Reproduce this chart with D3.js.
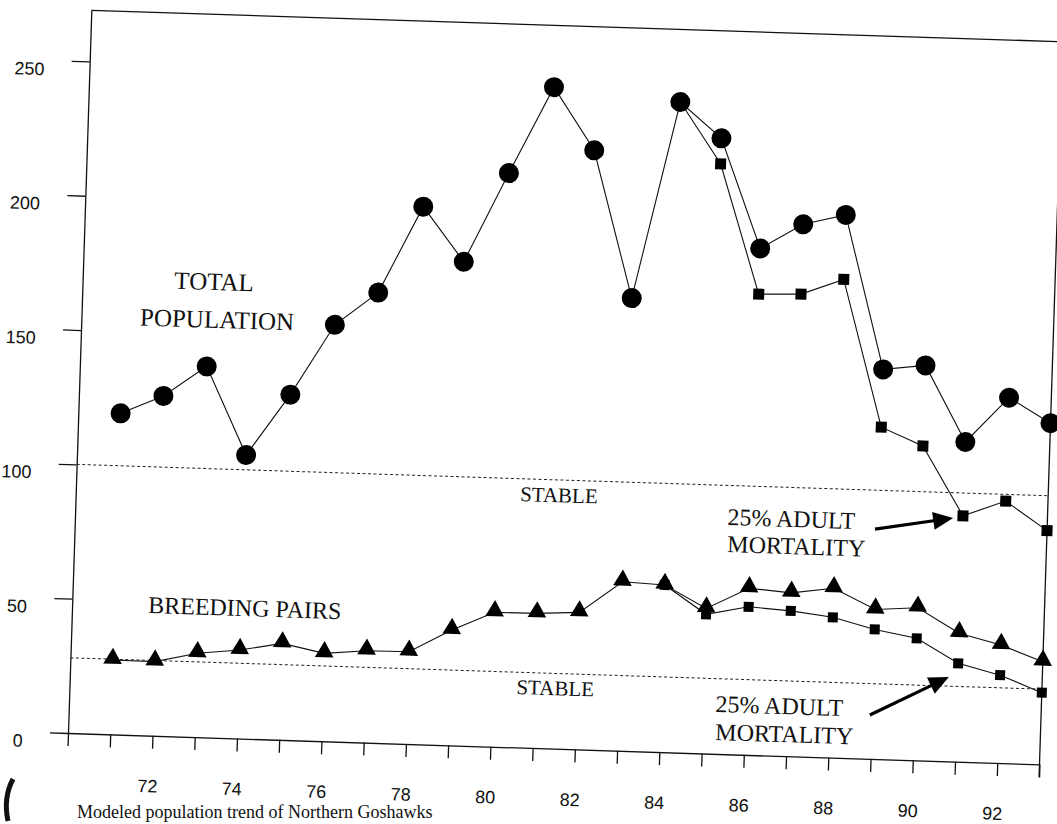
<!DOCTYPE html>
<html><head><meta charset="utf-8">
<script src="https://cdn.jsdelivr.net/npm/d3@7"></script>
<style>body{margin:0;background:#fff;overflow:hidden}</style>
</head><body>
<svg id="chart" width="1057" height="824"></svg>
<script>
// ---- data ----
const years = [71,72,73,74,75,76,77,78,79,80,81,82,83,84,85,86,87,88,89,90,91,92,93];
const totalPopulation = [119.5,126.5,138,105.5,128.5,155,167.5,200,180,213.5,246,223,168.5,242,229,188.5,198,202,145,147,119,136,127];
const mortalityYears = [84,85,86,87,88,89,90,91,92,93];
const totalMortality = [242,219.5,171.5,172,178,123.5,117,91.5,97.5,87];
const breedingPairs = [27.7,27.6,31.2,32.9,35.9,32.7,34.2,34.3,42.9,50,50.1,51,62.9,62.2,54,62,60.8,63,55.6,56.8,47.8,43.9,38.2];
const breedingMortality = [62.2,51.8,55.1,54.1,52.2,48.2,45.4,36.6,32.7,26.7];
const stableTotal = 100;
const stableBreeding = 28;
const yTicks = [0,50,100,150,200,250];
const xTickYears = [70,71,72,73,74,75,76,77,78,79,80,81,82,83,84,85,86,87,88,89,90,91,92,93];
const xLabelYears = [72,74,76,78,80,82,84,86,88,90,92];

// ---- layout ----
const W = 972, H = 723, ANGLE = 1.85;
const svg = d3.select('#chart');
const g = svg.append('g')
  .attr('transform', `translate(68,733) rotate(${ANGLE}) translate(0,${-H})`);

const x = d3.scaleLinear().domain([70,93]).range([0,W]);
const y = d3.scaleLinear().domain([0,269]).range([H,0]);

// axes
const yAxis = g.append('g').call(
  d3.axisLeft(y).tickValues(yTicks).tickSize(18).tickSizeOuter(0).tickPadding(27)
);
yAxis.selectAll('text').attr('y', 9)
  .style('font-family','"Liberation Sans", Arial, sans-serif').style('font-size','18px').attr('fill','#111');

const xAxis = g.append('g').attr('transform', `translate(0,${H})`).call(
  d3.axisBottom(x).tickValues(xTickYears).tickSize(13).tickSizeOuter(0).tickPadding(31)
    .tickFormat(d => xLabelYears.includes(d) ? String(d) : '')
);
xAxis.selectAll('text').attr('dx', -4)
  .style('font-family','"Liberation Sans", Arial, sans-serif').style('font-size','18px').attr('fill','#111');

g.selectAll('.domain, .tick line').attr('stroke','#111').attr('stroke-width',1.3);

// frame top and right
g.append('line').attr('x1',x(70)).attr('x2',x(93)).attr('y1',y(269)).attr('y2',y(269))
  .attr('stroke','#111').attr('stroke-width',1.3);
g.append('line').attr('x1',x(93)).attr('x2',x(93)).attr('y1',y(269)).attr('y2',H+13)
  .attr('stroke','#111').attr('stroke-width',1.3);

// stable lines
[stableTotal, stableBreeding].forEach(v => {
  g.append('line').attr('x1',x(70)).attr('x2',x(93)).attr('y1',y(v)).attr('y2',y(v))
    .attr('stroke','#222').attr('stroke-width',1).attr('stroke-dasharray','3,2.5');
});

// series
const line = d3.line().x(d => x(d[0])).y(d => y(d[1]));
const tot = years.map((yr,i) => [yr, totalPopulation[i]]);
const totM = mortalityYears.map((yr,i) => [yr, totalMortality[i]]);
const br = years.map((yr,i) => [yr, breedingPairs[i]]);
const brM = mortalityYears.map((yr,i) => [yr, breedingMortality[i]]);

[tot, totM, br, brM].forEach(s => {
  g.append('path').datum(s).attr('d', line).attr('fill','none').attr('stroke','#111').attr('stroke-width',1.1);
});

// markers
g.selectAll('.sqT').data(totM.filter(d => d[0] > 84)).enter().append('path')
  .attr('d', d3.symbol(d3.symbolSquare, 121))
  .attr('transform', d => `translate(${x(d[0])},${y(d[1])})`).attr('fill','#000');
g.selectAll('.circ').data(tot).enter().append('circle')
  .attr('cx', d => x(d[0])).attr('cy', d => y(d[1])).attr('r', 10).attr('fill','#000');
g.selectAll('.sqB').data(brM).enter().append('path')
  .attr('d', d3.symbol(d3.symbolSquare, 100))
  .attr('transform', d => `translate(${x(d[0])},${y(d[1])})`).attr('fill','#000');
g.selectAll('.tri').data(br).enter().append('path')
  .attr('d', d3.symbol(d3.symbolTriangle, 150))
  .attr('transform', d => `translate(${x(d[0])},${y(d[1])-1.5})`).attr('fill','#000');

// annotations
const serif = '"Liberation Serif", "Times New Roman", serif';
function label(txt, yr, val, size, anchor) {
  g.append('text').attr('x', x(yr)).attr('y', y(val)).text(txt)
    .attr('text-anchor', anchor).style('font-family', serif).style('font-size', size + 'px').attr('fill','#111');
}
label('TOTAL', 73.11, 166.5, 25, 'middle');
label('POPULATION', 73.21, 152.4, 25, 'middle');
label('BREEDING PAIRS', 71.8, 45.6, 24, 'start');
label('STABLE', 80.51, 91.7, 21, 'start');
label('STABLE', 80.57, 19.9, 21, 'start');
label('25% ADULT', 85.43, 85.3, 24, 'start');
label('MORTALITY', 85.45, 75.2, 24, 'start');
label('25% ADULT', 85.29, 15.6, 24, 'start');
label('MORTALITY', 85.31, 5.2, 24, 'start');

// caption (kept fully inside the page)
svg.append('text').attr('x', 77).attr('y', 818)
  .text('Modeled population trend of Northern Goshawks')
  .style('font-family', serif).style('font-size', '18px').attr('fill', '#111');

function arrow(y0, v0, y1, v1) {
  const p0 = [x(y0), y(v0)], p1 = [x(y1), y(v1)];
  const dx = p1[0]-p0[0], dy = p1[1]-p0[1], L = Math.hypot(dx,dy);
  const ux = dx/L, uy = dy/L, hl = 20, hw = 9;
  const b = [p1[0]-ux*hl, p1[1]-uy*hl];
  g.append('line').attr('x1',p0[0]).attr('y1',p0[1]).attr('x2',b[0]+ux*2).attr('y2',b[1]+uy*2)
    .attr('stroke','#000').attr('stroke-width',3.2);
  g.append('path').attr('d', `M${p1[0]},${p1[1]}L${b[0]-uy*hw},${b[1]+ux*hw}L${b[0]+uy*hw},${b[1]-ux*hw}Z`)
    .attr('fill','#000');
}
arrow(88.93, 85.5, 90.77, 90.6);
arrow(88.95, 16.3, 90.79, 31.4);

// scan artefact at lower left
svg.append('path').attr('d','M13,779 Q3,798 8,821').attr('fill','none').attr('stroke','#111').attr('stroke-width',5);
</script>
</body></html>
